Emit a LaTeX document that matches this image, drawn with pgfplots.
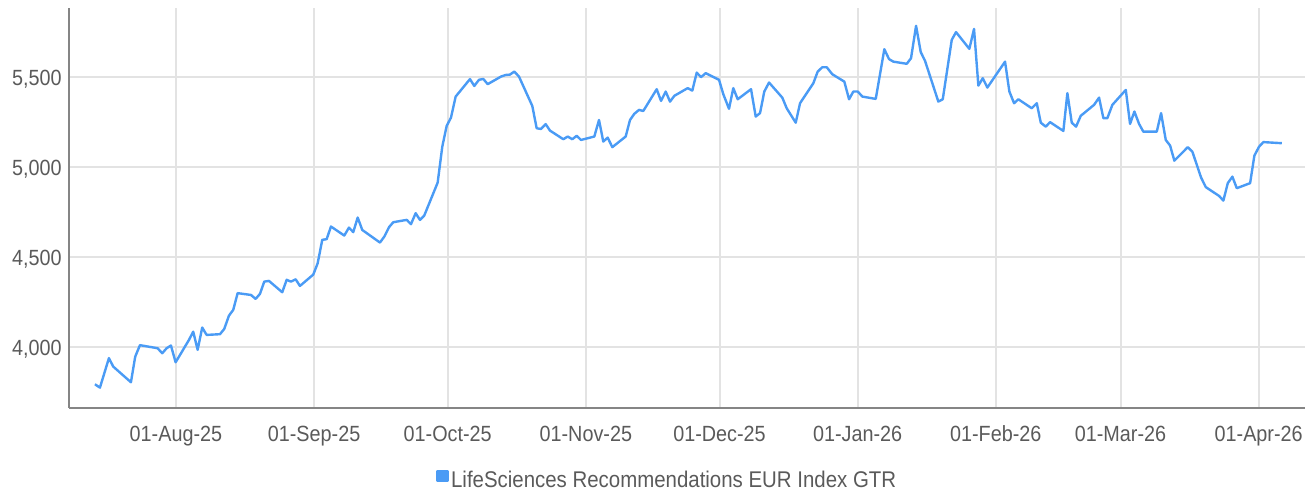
\documentclass[border=0pt]{standalone}
\usepackage{pgfplots}
\pgfplotsset{compat=1.18}
\usepackage{fontspec}
\setmainfont{Liberation Sans}[FakeStretch=0.9]
\definecolor{lineblue}{HTML}{4A9BF5}
\definecolor{gridgray}{HTML}{E3E3E3}
\definecolor{axisgray}{HTML}{858585}
\definecolor{labelgray}{HTML}{5A5A5A}
\begin{document}
\begin{tikzpicture}
\useasboundingbox (-34.5pt,-42.5pt) rectangle (622.5pt,204pt);
\begin{axis}[
  at={(0,0)}, anchor=south west,
  scale only axis, width=618pt, height=200pt,
  xmin=-24, xmax=253.4, ymin=3659, ymax=5881,
  axis x line=bottom, axis y line=left,
  axis line style={draw=axisgray, line width=1pt, -},
  xtick={0,31,61,92,122,153,184,212,243},
  xticklabels={01-Aug-25,01-Sep-25,01-Oct-25,01-Nov-25,01-Dec-25,01-Jan-26,01-Feb-26,01-Mar-26,01-Apr-26},
  ytick={4000,4500,5000,5500},
  major tick length=0pt,
  xmajorgrids, ymajorgrids,
  major grid style={draw=gridgray, line width=1pt},
  tick label style={font=\fontsize{11}{13}\selectfont, text=labelgray},
  xticklabel style={inner sep=0pt, anchor=base, yshift=-16.7pt},
  yticklabel style={inner sep=0pt, anchor=base east, xshift=-3.5pt, yshift=-4.4pt},
  /pgf/number format/.cd, 1000 sep={,}, assume math mode=true,
  /pgfplots/.cd,
  legend style={at={(axis description cs:0.4842,-0.1825)}, anchor=center, draw=none, fill=none,
    font=\fontsize{11.35}{13}\selectfont, text=labelgray, inner sep=0pt,
    nodes={inner sep=1.25pt}},
  legend image code/.code={\fill[lineblue] (0pt,0pt) rectangle (5pt,5pt);},
]
\addplot[color=lineblue, line width=1.2pt, line join=round] coordinates {
(-18.18,3791) (-17.06,3772) (-15.04,3936) (-14.07,3889) (-10.10,3802) (-9.14,3944)
(-8.08,4008) (-4.11,3991) (-3.08,3963) (-2.09,3991) (-1.12,4006) (-0.07,3913)
(2.92,4037) (3.88,4083) (4.87,3982) (5.90,4106) (6.89,4065) (9.88,4069)
(10.84,4098) (11.90,4172) (12.86,4204) (13.85,4297) (16.84,4287) (17.89,4265)
(18.86,4293) (19.82,4361) (20.88,4365) (23.86,4302) (24.85,4371) (25.81,4361)
(26.87,4374) (27.83,4337) (30.82,4400) (31.81,4463) (32.84,4593) (33.83,4597)
(34.79,4667) (37.78,4617) (38.83,4661) (39.80,4636) (40.79,4717) (41.82,4648)
(45.79,4578) (46.76,4611) (47.81,4663) (48.78,4691) (51.79,4704) (52.75,4680)
(53.80,4741) (54.77,4704) (55.73,4728) (58.74,4911) (59.78,5111) (60.76,5226)
(61.73,5272) (62.78,5389) (65.99,5486) (66.96,5448) (68.01,5482) (68.98,5487)
(69.97,5458) (72.95,5500) (74.01,5509) (74.97,5511) (75.94,5528) (76.99,5500)
(79.98,5337) (80.96,5213) (81.93,5209) (82.99,5236) (83.95,5200) (86.94,5152)
(87.92,5167) (88.96,5152) (89.94,5171) (90.91,5148) (93.90,5167) (94.95,5259)
(95.91,5139) (96.90,5161) (97.94,5108) (100.94,5167) (101.91,5259) (102.87,5293)
(103.93,5315) (104.89,5309) (107.90,5430) (108.87,5365) (109.92,5417) (110.89,5361)
(111.85,5393) (114.86,5436) (115.89,5422) (116.88,5522) (117.85,5497) (118.90,5519)
(121.89,5482) (122.85,5402) (124.13,5321) (125.09,5436) (126.08,5374) (129.07,5430)
(130.12,5278) (131.09,5297) (132.05,5417) (133.11,5467) (136.09,5383) (137.08,5324)
(139.10,5244) (140.07,5352) (143.05,5463) (144.04,5528) (145.07,5552) (146.06,5552)
(147.31,5513) (150.01,5472) (151.07,5374) (152.03,5417) (153.02,5417) (154.05,5389)
(157.06,5376) (158.99,5652) (160.04,5597) (161.01,5583) (164.02,5571) (164.98,5602)
(166.11,5782) (167.16,5636) (168.13,5587) (171.11,5361) (172.10,5374) (174.12,5704)
(175.08,5747) (178.07,5654) (179.12,5765) (180.09,5450) (181.08,5491) (182.11,5439)
(186.08,5583) (187.05,5417) (188.10,5352) (189.07,5374) (192.08,5324) (193.20,5352)
(194.10,5244) (195.22,5222) (196.18,5247) (199.17,5198) (200.07,5408) (201.05,5244)
(202.02,5222) (203.07,5282) (206.06,5343) (207.18,5383) (208.15,5269) (209.04,5269)
(210.17,5343) (213.18,5426) (214.14,5237) (215.11,5306) (216.16,5237) (217.12,5194)
(220.13,5194) (221.10,5297) (222.15,5148) (223.12,5117) (224.08,5033) (227.09,5108)
(228.12,5083) (230.08,4939) (231.13,4886) (234.12,4837) (235.08,4811) (236.07,4908)
(237.10,4944) (238.09,4880) (241.08,4908) (242.04,5061) (243.10,5111) (244.06,5136)
(248.19,5130)
};
\addlegendentry{LifeSciences Recommendations EUR Index GTR}
\end{axis}
\end{tikzpicture}
\end{document}
